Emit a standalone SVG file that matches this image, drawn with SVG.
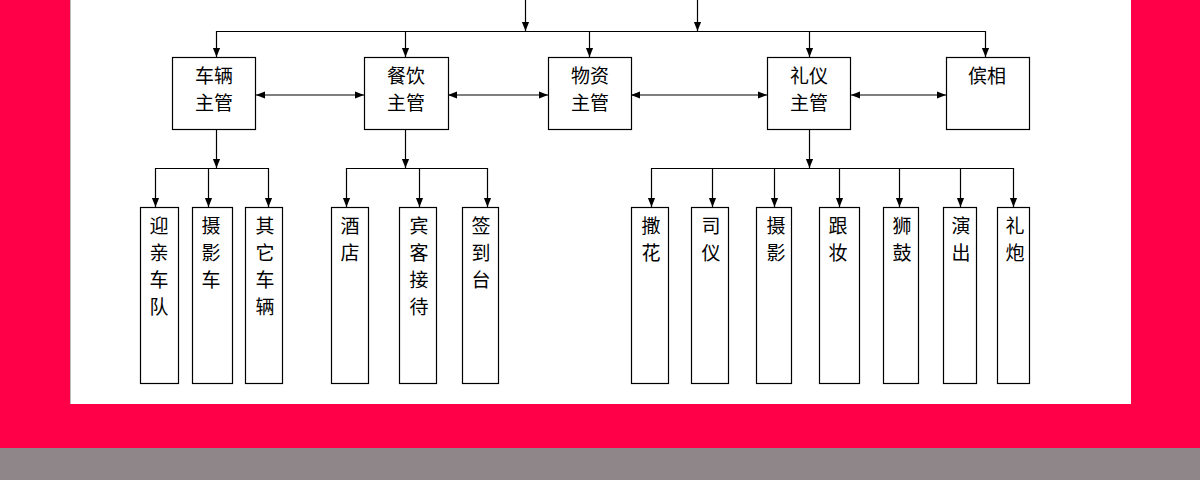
<svg xmlns="http://www.w3.org/2000/svg" width="1200" height="480" viewBox="0 0 1200 480">
<style>
.box{fill:#fff;stroke:#000;stroke-width:1.2}
.ln{fill:none;stroke:#000;stroke-width:1.2}
.t{font-family:"Noto Sans CJK SC","Noto Sans",sans-serif;font-size:19px;fill:#000;text-anchor:middle}
</style>
<defs>
<marker id="ah" viewBox="0 0 10 10" refX="10" refY="5" markerWidth="9" markerHeight="9" markerUnits="userSpaceOnUse" orient="auto-start-reverse">
<path d="M0,1 L10,5 L0,9 Z" fill="#000"/>
</marker>
</defs>
<rect x="0" y="0" width="1200" height="480" fill="#FF0048"/>
<rect x="70" y="0" width="1061" height="404" fill="#fff"/>
<line x1="70.5" y1="0" x2="70.5" y2="404" stroke="#bbb" stroke-width="1"/>
<rect x="0" y="448" width="1200" height="32" fill="#8F8689"/>
<g id="connectors">
<line class="ln" x1="525.5" y1="0" x2="525.5" y2="31" marker-end="url(#ah)"/>
<line class="ln" x1="697.5" y1="0" x2="697.5" y2="31" marker-end="url(#ah)"/>
<polyline class="ln" points="216.5,57 216.5,31.5 985.5,31.5 985.5,57" marker-start="url(#ah)" marker-end="url(#ah)"/>
<line class="ln" x1="405.5" y1="31.5" x2="405.5" y2="57" marker-end="url(#ah)"/>
<line class="ln" x1="589.5" y1="31.5" x2="589.5" y2="57" marker-end="url(#ah)"/>
<line class="ln" x1="809.5" y1="31.5" x2="809.5" y2="57" marker-end="url(#ah)"/>
<line class="ln" x1="256" y1="95" x2="364" y2="95" marker-start="url(#ah)" marker-end="url(#ah)"/>
<line class="ln" x1="448" y1="95" x2="548" y2="95" marker-start="url(#ah)" marker-end="url(#ah)"/>
<line class="ln" x1="631" y1="95" x2="767" y2="95" marker-start="url(#ah)" marker-end="url(#ah)"/>
<line class="ln" x1="851" y1="95" x2="946" y2="95" marker-start="url(#ah)" marker-end="url(#ah)"/>
<line class="ln" x1="216.5" y1="129" x2="216.5" y2="168" marker-end="url(#ah)"/>
<polyline class="ln" points="155.5,207 155.5,168.5 268.5,168.5 268.5,207" marker-start="url(#ah)" marker-end="url(#ah)"/>
<line class="ln" x1="208.5" y1="168.5" x2="208.5" y2="207" marker-end="url(#ah)"/>
<line class="ln" x1="405.5" y1="129" x2="405.5" y2="168" marker-end="url(#ah)"/>
<polyline class="ln" points="346.5,207 346.5,168.5 487.5,168.5 487.5,207" marker-start="url(#ah)" marker-end="url(#ah)"/>
<line class="ln" x1="419.5" y1="168.5" x2="419.5" y2="207" marker-end="url(#ah)"/>
<line class="ln" x1="809.5" y1="129" x2="809.5" y2="168" marker-end="url(#ah)"/>
<polyline class="ln" points="651.5,207 651.5,168.5 1013.5,168.5 1013.5,207" marker-start="url(#ah)" marker-end="url(#ah)"/>
<line class="ln" x1="712.5" y1="168.5" x2="712.5" y2="207" marker-end="url(#ah)"/>
<line class="ln" x1="774.5" y1="168.5" x2="774.5" y2="207" marker-end="url(#ah)"/>
<line class="ln" x1="839.5" y1="168.5" x2="839.5" y2="207" marker-end="url(#ah)"/>
<line class="ln" x1="899.5" y1="168.5" x2="899.5" y2="207" marker-end="url(#ah)"/>
<line class="ln" x1="960.5" y1="168.5" x2="960.5" y2="207" marker-end="url(#ah)"/>
</g>
<g id="n-cheliang"><rect class="box" x="172.5" y="57.5" width="83" height="72"/><text class="t" x="214" y="83">车辆</text><text class="t" x="214" y="110">主管</text></g>
<g id="n-canyin"><rect class="box" x="364.5" y="57.5" width="84" height="72"/><text class="t" x="406" y="83">餐饮</text><text class="t" x="406" y="110">主管</text></g>
<g id="n-wuzi"><rect class="box" x="548.5" y="57.5" width="83" height="72"/><text class="t" x="590" y="83">物资</text><text class="t" x="590" y="110">主管</text></g>
<g id="n-liyi"><rect class="box" x="767.5" y="57.5" width="83" height="72"/><text class="t" x="809" y="83">礼仪</text><text class="t" x="809" y="110">主管</text></g>
<g id="n-binxiang"><rect class="box" x="946.5" y="57.5" width="83" height="72"/><text class="t" x="987" y="83">傧相</text></g>
<g id="n-yingqin"><rect class="box" x="140.5" y="207.5" width="38" height="176"/><text class="t" x="159" y="233">迎</text><text class="t" x="159" y="260">亲</text><text class="t" x="159" y="287">车</text><text class="t" x="159" y="314">队</text></g>
<g id="n-sheyingche"><rect class="box" x="192.5" y="207.5" width="40" height="176"/><text class="t" x="211" y="233">摄</text><text class="t" x="211" y="260">影</text><text class="t" x="211" y="287">车</text></g>
<g id="n-qita"><rect class="box" x="245.5" y="207.5" width="37" height="176"/><text class="t" x="265" y="233">其</text><text class="t" x="265" y="260">它</text><text class="t" x="265" y="287">车</text><text class="t" x="265" y="314">辆</text></g>
<g id="n-jiudian"><rect class="box" x="331.5" y="207.5" width="37" height="176"/><text class="t" x="350" y="233">酒</text><text class="t" x="350" y="260">店</text></g>
<g id="n-binke"><rect class="box" x="399.5" y="207.5" width="37" height="176"/><text class="t" x="419" y="233">宾</text><text class="t" x="419" y="260">客</text><text class="t" x="419" y="287">接</text><text class="t" x="419" y="314">待</text></g>
<g id="n-qiandao"><rect class="box" x="462.5" y="207.5" width="36" height="176"/><text class="t" x="481" y="233">签</text><text class="t" x="481" y="260">到</text><text class="t" x="481" y="287">台</text></g>
<g id="n-sahua"><rect class="box" x="631.5" y="207.5" width="37" height="176"/><text class="t" x="651" y="233">撒</text><text class="t" x="651" y="260">花</text></g>
<g id="n-siyi"><rect class="box" x="691.5" y="207.5" width="37" height="176"/><text class="t" x="711" y="233">司</text><text class="t" x="711" y="260">仪</text></g>
<g id="n-sheying"><rect class="box" x="756.5" y="207.5" width="35" height="176"/><text class="t" x="776" y="233">摄</text><text class="t" x="776" y="260">影</text></g>
<g id="n-genzhuang"><rect class="box" x="819.5" y="207.5" width="40" height="176"/><text class="t" x="838" y="233">跟</text><text class="t" x="838" y="260">妆</text></g>
<g id="n-shigu"><rect class="box" x="883.5" y="207.5" width="35" height="176"/><text class="t" x="902" y="233">狮</text><text class="t" x="902" y="260">鼓</text></g>
<g id="n-yanchu"><rect class="box" x="943.5" y="207.5" width="33" height="176"/><text class="t" x="961" y="233">演</text><text class="t" x="961" y="260">出</text></g>
<g id="n-lipao"><rect class="box" x="997.5" y="207.5" width="32" height="176"/><text class="t" x="1015" y="233">礼</text><text class="t" x="1015" y="260">炮</text></g>
</svg>
